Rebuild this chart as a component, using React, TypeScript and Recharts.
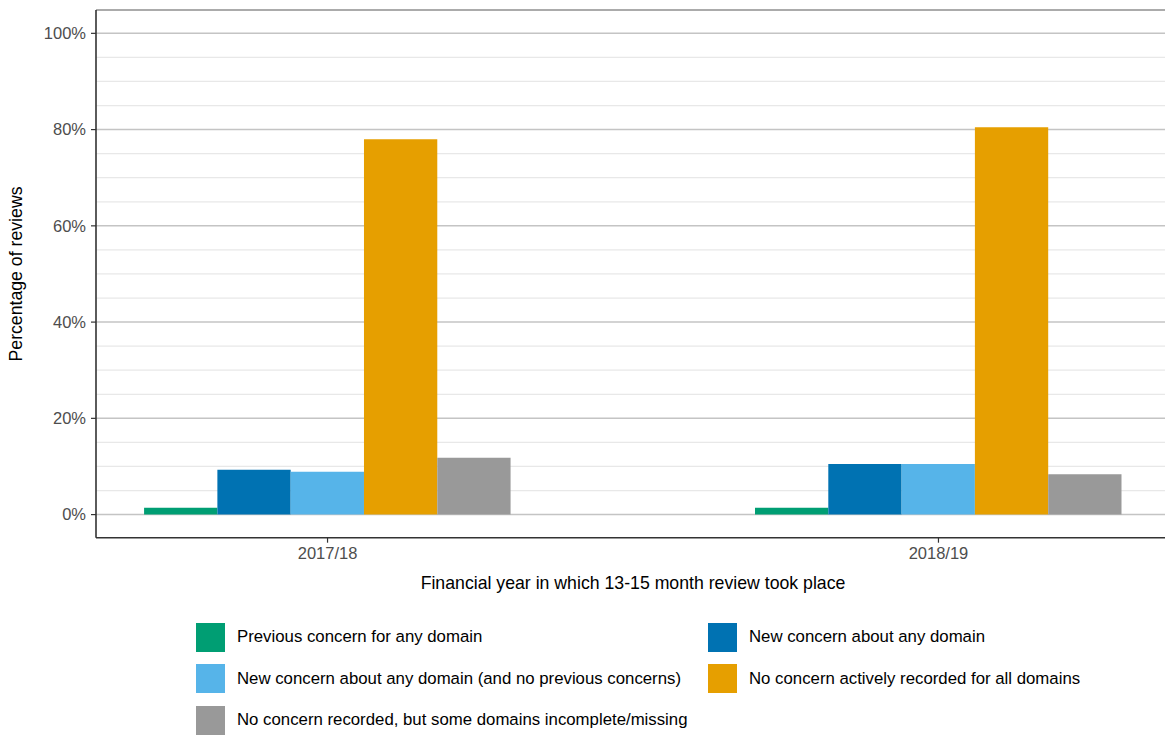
import React from 'react';
import { BarChart, Bar, XAxis, YAxis, CartesianGrid } from 'recharts';

const categories = ['2017/18', '2018/19'];
const seriesNames = [
  'Previous concern for any domain',
  'New concern about any domain',
  'New concern about any domain (and no previous concerns)',
  'No concern actively recorded for all domains',
  'No concern recorded, but some domains incomplete/missing',
];
const seriesColors = ['#009E73', '#0072B2', '#56B4E9', '#E69F00', '#999999'];
const previousConcern = [1.4, 1.4];
const newConcern = [9.3, 10.5];
const newConcernNoPrevious = [8.9, 10.5];
const noConcernAll = [78.0, 80.5];
const noConcernIncomplete = [11.8, 8.4];
const yTicks = [0, 20, 40, 60, 80, 100];
const yMinorGrid = [5, 10, 15, 25, 30, 35, 45, 50, 55, 65, 70, 75, 85, 90, 95];
const yDomain = [-4.8, 104.85];
const xDomain = [0.621, 2.379];

const seriesValues = [previousConcern, newConcern, newConcernNoPrevious, noConcernAll, noConcernIncomplete];
const keys = ['s0', 's1', 's2', 's3', 's4'];

const data = categories.map((c, i) => {
  const row: any = { x: i + 1, label: c };
  keys.forEach((k, j) => { row[k] = seriesValues[j][i]; });
  return row;
});

const FONT = '"Liberation Sans", Arial, sans-serif';

export default function App() {
  return (
    <div style={{ position: 'absolute', left: 0, top: 0, width: 1165, height: 735, overflow: 'hidden', background: '#fff', fontFamily: FONT }}>
      <BarChart
        width={1170}
        height={735}
        data={data}
        margin={{ top: 10, right: 0, bottom: 167.3, left: 0 }}
        barGap={0}
      >
        <CartesianGrid xAxisId="main" vertical={false} horizontalValues={yMinorGrid} stroke="#e8e8e8" strokeWidth={1.3} />
        <CartesianGrid xAxisId="main" vertical={false} horizontalValues={yTicks} stroke="#c4c4c4" strokeWidth={1.5} />
        <CartesianGrid xAxisId="main" vertical={false} horizontalValues={[yDomain[1]]} stroke="#8f8f8f" strokeWidth={1.4} />
        <XAxis
          xAxisId="main"
          dataKey="x"
          type="number"
          domain={xDomain}
          ticks={[1, 2]}
          tickFormatter={(v: number) => categories[v - 1]}
          height={30}
          axisLine={{ stroke: '#333333', strokeWidth: 1.6 }}
          tickLine={{ stroke: '#333333', strokeWidth: 1.2 }}
          tickSize={5}
          tickMargin={5}
          tick={{ fill: '#4d4d4d', fontSize: 16.5, fontFamily: FONT }}
          allowDataOverflow
        />
        <YAxis
          type="number"
          domain={yDomain}
          ticks={yTicks}
          tickFormatter={(v: number) => `${v}%`}
          width={96}
          axisLine={{ stroke: '#333333', strokeWidth: 1.6 }}
          tickLine={{ stroke: '#333333', strokeWidth: 1.2 }}
          tickSize={5}
          tickMargin={5}
          tick={{ fill: '#4d4d4d', fontSize: 16.5, fontFamily: FONT }}
          allowDataOverflow
        />
        {keys.map((k, j) => (
          <Bar
            key={k}
            xAxisId="main"
            dataKey={k}
            name={seriesNames[j]}
            fill={seriesColors[j]}
            barSize={73.3}
            isAnimationActive={false}
          />
        ))}
      </BarChart>

      <div style={{ position: 'absolute', left: 16, top: 273.9, transform: 'translate(-50%, -50%) rotate(-90deg)', whiteSpace: 'nowrap', fontSize: 17.7, color: '#000' }}>
        Percentage of reviews
      </div>
      <div style={{ position: 'absolute', left: 633, top: 583, transform: 'translate(-50%, -50%)', whiteSpace: 'nowrap', fontSize: 17.7, color: '#000' }}>
        Financial year in which 13-15 month review took place
      </div>

      {seriesNames.map((name, j) => {
        const col = j % 2;
        const row = Math.floor(j / 2);
        const left = col === 0 ? 196 : 708;
        const cy = 637 + row * 41.5;
        return (
          <div key={name} style={{ position: 'absolute', left, top: cy - 14.5, height: 29, display: 'flex', alignItems: 'center', whiteSpace: 'nowrap' }}>
            <div style={{ width: 29, height: 29, background: seriesColors[j] }} />
            <span style={{ marginLeft: 12, fontSize: 16.8, color: '#000' }}>{name}</span>
          </div>
        );
      })}
    </div>
  );
}
